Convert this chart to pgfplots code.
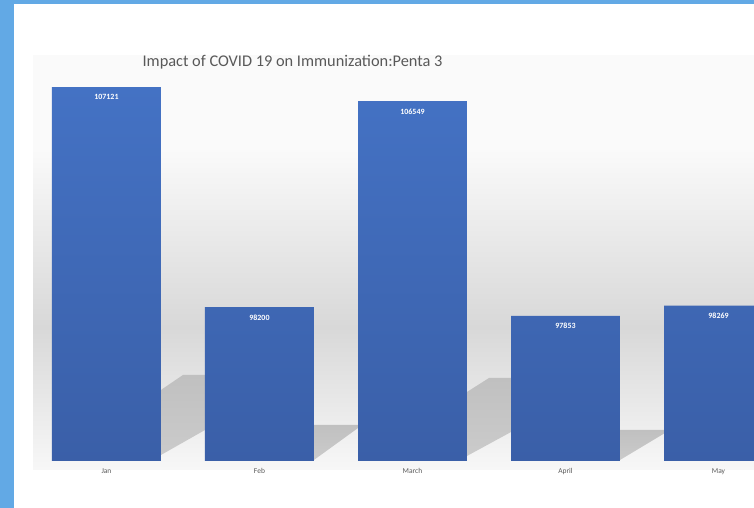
\documentclass[border=0pt]{standalone}
\usepackage{pgfplots}
\pgfplotsset{compat=1.18}
\usepackage{pgfplotstable}
\usepackage{fontspec}
\setmainfont{Carlito}

\definecolor{frameblue}{HTML}{62A9E5}
\definecolor{bartop}{HTML}{4472C4}
\definecolor{barbot}{HTML}{3A5FA8}
\definecolor{txtgray}{HTML}{595959}
\definecolor{band}{HTML}{D8D8D8}
\definecolor{shadtop}{HTML}{C0C0C0}
\definecolor{shadbot}{HTML}{CBCBCB}

% Penta 3 doses per month
\pgfplotstableread{
x value
0 107121
1 98200
2 106549
3 97853
4 98269
}\penta

\begin{document}
\begin{tikzpicture}[x=1bp,y=1bp]
  \path[use as bounding box] (0,0) rectangle (754,508);
  \fill[frameblue] (0,0) rectangle (754,508);
  \fill[white] (14,0) rectangle (754,504);
  % plot area backdrop
  \fill[black!2] (33,358) rectangle (754,453);
  \shade[top color=black!2, bottom color=band] (33,181) rectangle (754,358.2);
  \shade[top color=band, bottom color=black!3] (33,38) rectangle (754,181.2);
  \node[text=txtgray, font=\fontsize{16.4}{19}\selectfont] at (292.5,446)
    {Impact of COVID 19 on Immunization:Penta 3};

  \begin{axis}[
      at={(33bp,47bp)}, anchor=south west,
      scale only axis, width=721bp, height=406bp,
      xmin=-0.48, xmax=4.232,
      ymin=0, ymax=16450,
      axis line style={draw=none},
      ytick=\empty,
      xtick={0,1,2,3,4},
      xticklabels={Jan,Feb,March,April,May},
      major tick length=0pt,
      xticklabel style={font=\fontsize{7.5}{9}\selectfont, text=txtgray, yshift=-4bp},
    ]

    % shadows behind the bars
    \addplot[draw=none, top color=shadtop, bottom color=shadbot]
      coordinates {(0.356,2877) (0.5,3485) (0.644,3485) (0.644,1256) (0.356,243)} -- cycle;
    \addplot[draw=none, top color=shadtop, bottom color=shadbot]
      coordinates {(1.356,1459) (1.644,1459) (1.644,1337) (1.356,41)} -- cycle;
    \addplot[draw=none, top color=shadtop, bottom color=shadbot]
      coordinates {(2.356,2796) (2.5,3363) (2.644,3363) (2.644,1175) (2.356,203)} -- cycle;
    \addplot[draw=none, top color=shadtop, bottom color=shadbot]
      coordinates {(3.356,1256) (3.65,1256) (3.65,1135) (3.356,41)} -- cycle;

    % bars (offset so they stand on the baseline)
    \addplot[ybar, bar width=0.712, draw=none,
      top color=bartop, bottom color=barbot,
      nodes near coords, point meta=explicit symbolic,
      every node near coord/.append style={anchor=north, yshift=-4bp,
        text=white, font=\bfseries\fontsize{8}{9}\selectfont}]
      table[x=x, y expr=\thisrow{value}-91970, meta=value] {\penta};

  \end{axis}
\end{tikzpicture}
\end{document}
